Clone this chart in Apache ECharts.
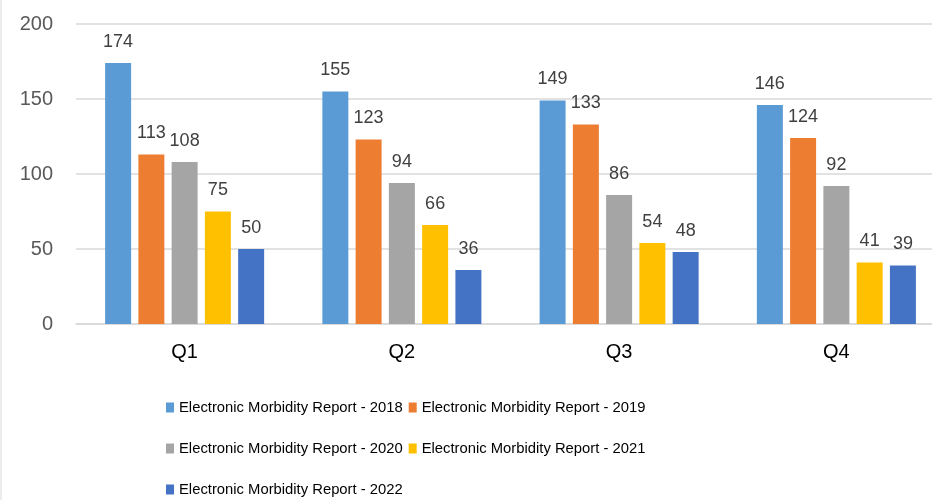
<!DOCTYPE html>
<html><head><meta charset="utf-8">
<script src="https://cdn.jsdelivr.net/npm/echarts@6/dist/echarts.min.js"></script>
<style>html,body{margin:0;padding:0;background:#fff}#c{width:932px;height:500px}</style>
</head><body><div id="c"></div>
<script>
const categories = ['Q1','Q2','Q3','Q4'];
const seriesNames = ['Electronic Morbidity Report - 2018','Electronic Morbidity Report - 2019','Electronic Morbidity Report - 2020','Electronic Morbidity Report - 2021','Electronic Morbidity Report - 2022'];
const v2018 = [174,155,149,146];
const v2019 = [113,123,133,124];
const v2020 = [108,94,86,92];
const v2021 = [75,66,54,41];
const v2022 = [50,36,48,39];
const yTicks = [0,50,100,150,200];
const colors = ['#5B9BD5','#ED7D31','#A5A5A5','#FFC000','#4472C4'];
const values = [v2018,v2019,v2020,v2021,v2022];

const chart = echarts.init(document.getElementById('c'));
const legendFont = {fontFamily:'Liberation Sans', fontSize:14.8, color:'#000'};
function mkLegend(data, top){
  return {data:data, top:top, left:166, itemWidth:8, itemHeight:10, itemGap:6, icon:'rect',
    textStyle:legendFont, selectedMode:false, padding:0};
}
chart.setOption({
  animation:false,
  color:colors,
  graphic:[{type:'line', shape:{x1:1,y1:0,x2:1,y2:500}, style:{stroke:'#d9d9d9', lineWidth:1}}],
  grid:{left:76, top:24, width:869, height:300, containLabel:false, outerBoundsMode:'none'},
  legend:[mkLegend(seriesNames.slice(0,2),400), mkLegend(seriesNames.slice(2,4),441), mkLegend(seriesNames.slice(4),482)],
  xAxis:{type:'category', data:categories,
    axisLine:{lineStyle:{color:'#d9d9d9', width:1.5}}, axisTick:{show:false},
    axisLabel:{fontSize:20, color:'#000', margin:18, fontFamily:'Liberation Sans'}},
  yAxis:{type:'value', min:yTicks[0], max:yTicks[yTicks.length-1], interval:50,
    splitLine:{lineStyle:{color:'#d9d9d9', width:1.5}}, axisLine:{show:false}, axisTick:{show:false},
    axisLabel:{fontSize:20, color:'#595959', margin:23, fontFamily:'Liberation Sans'}},
  series: values.map((d,i)=>({name:seriesNames[i], type:'bar', data:d, barGap:'28%', barCategoryGap:'26.8%',
    label:{show:true, position:'top', distance:12, fontSize:18, color:'#404040', fontFamily:'Liberation Sans'}}))
});
</script></body></html>
